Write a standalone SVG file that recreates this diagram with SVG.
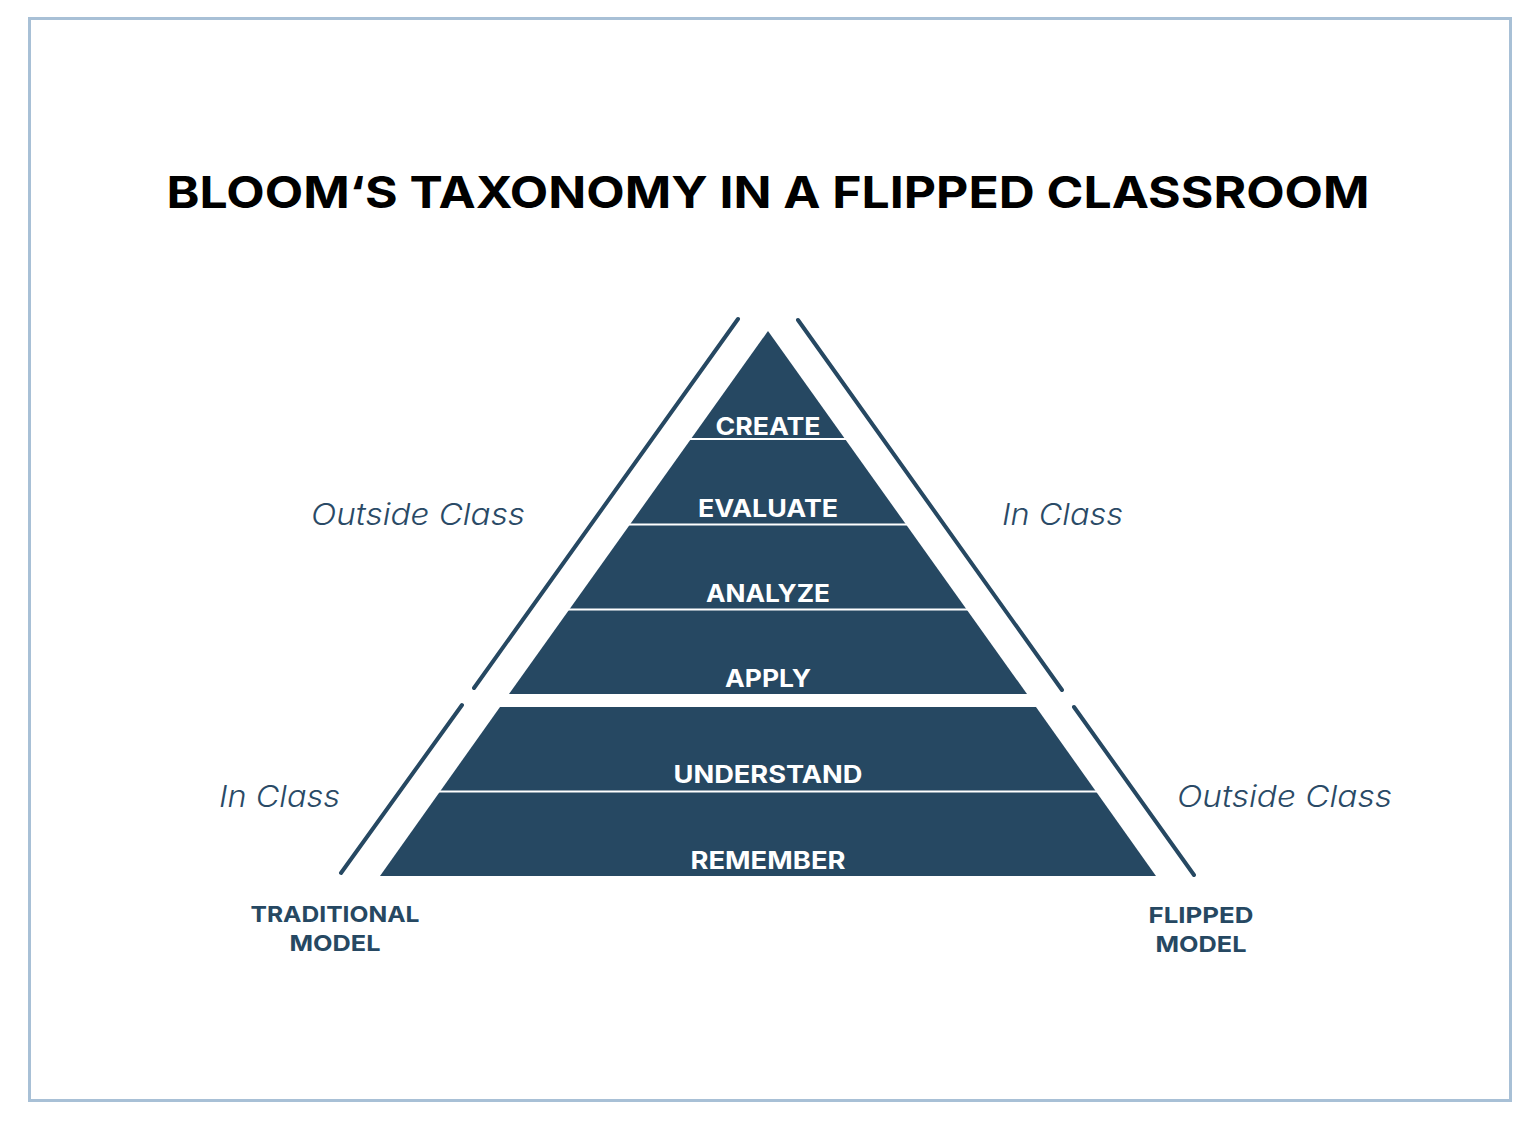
<svg xmlns="http://www.w3.org/2000/svg" width="1534" height="1128" viewBox="0 0 1534 1128">
<style>
.layer{fill:#264862}
.div{stroke:#ffffff;stroke-width:2}
.lbl{font-family:Inter,"Open Sans","Liberation Sans",sans-serif;font-weight:700;fill:#ffffff;font-size:24px;text-anchor:middle}
.side{font-family:Inter,"Open Sans","Liberation Sans",sans-serif;font-style:italic;font-weight:300;fill:#2a4a66;font-size:30px}
.model{font-family:Inter,"Open Sans","Liberation Sans",sans-serif;font-weight:700;fill:#264862;font-size:22px;text-anchor:middle}
.bar{stroke:#264862;stroke-width:4;stroke-linecap:round;fill:none}
</style>
<rect x="29.5" y="18.5" width="1481" height="1082" fill="#ffffff" stroke="#a8c0d6" stroke-width="3"/>
<text x="768" y="208" font-family="Inter,'Open Sans','Liberation Sans',sans-serif" font-weight="700" font-size="44" fill="#000000" text-anchor="middle" textLength="1203" lengthAdjust="spacingAndGlyphs">BLOOM‘S TAXONOMY IN A FLIPPED CLASSROOM</text>
<g id="upper-pyramid">
<polygon class="layer" points="768,331 1027,694 509,694"/>
<line class="div" x1="688" y1="439" x2="848" y2="439"/>
<line class="div" x1="627" y1="524.5" x2="909" y2="524.5"/>
<line class="div" x1="566" y1="609.5" x2="970" y2="609.5"/>
</g>
<g id="lower-pyramid">
<polygon class="layer" points="500,707 1036,707 1156,876 380,876"/>
<line class="div" x1="437" y1="791.5" x2="1099" y2="791.5"/>
</g>
<g id="create"><text class="lbl" x="768" y="435" textLength="105" lengthAdjust="spacingAndGlyphs">CREATE</text></g>
<g id="evaluate"><text class="lbl" x="768" y="517" textLength="140" lengthAdjust="spacingAndGlyphs">EVALUATE</text></g>
<g id="analyze"><text class="lbl" x="768" y="602" textLength="124" lengthAdjust="spacingAndGlyphs">ANALYZE</text></g>
<g id="apply"><text class="lbl" x="768" y="687" textLength="86" lengthAdjust="spacingAndGlyphs">APPLY</text></g>
<g id="understand"><text class="lbl" x="768" y="783" textLength="189" lengthAdjust="spacingAndGlyphs">UNDERSTAND</text></g>
<g id="remember"><text class="lbl" x="768" y="869" textLength="155" lengthAdjust="spacingAndGlyphs">REMEMBER</text></g>
<g id="connectors">
<line class="bar" x1="738" y1="319" x2="474" y2="688"/>
<line class="bar" x1="798" y1="320" x2="1062" y2="690"/>
<line class="bar" x1="462" y1="705" x2="341" y2="873"/>
<line class="bar" x1="1074" y1="707" x2="1194" y2="875"/>
</g>
<g id="side-labels">
<text class="side" x="311" y="525" textLength="214" lengthAdjust="spacingAndGlyphs">Outside Class</text>
<text class="side" x="1002" y="525" textLength="121" lengthAdjust="spacingAndGlyphs">In Class</text>
<text class="side" x="219" y="807" textLength="121" lengthAdjust="spacingAndGlyphs">In Class</text>
<text class="side" x="1177" y="807" textLength="215" lengthAdjust="spacingAndGlyphs">Outside Class</text>
</g>
<g id="traditional">
<text class="model" x="335" y="922" textLength="169" lengthAdjust="spacingAndGlyphs">TRADITIONAL</text>
<text class="model" x="335" y="951" textLength="91" lengthAdjust="spacingAndGlyphs">MODEL</text>
</g>
<g id="flipped">
<text class="model" x="1201" y="923" textLength="105" lengthAdjust="spacingAndGlyphs">FLIPPED</text>
<text class="model" x="1201" y="952" textLength="91" lengthAdjust="spacingAndGlyphs">MODEL</text>
</g>
</svg>
